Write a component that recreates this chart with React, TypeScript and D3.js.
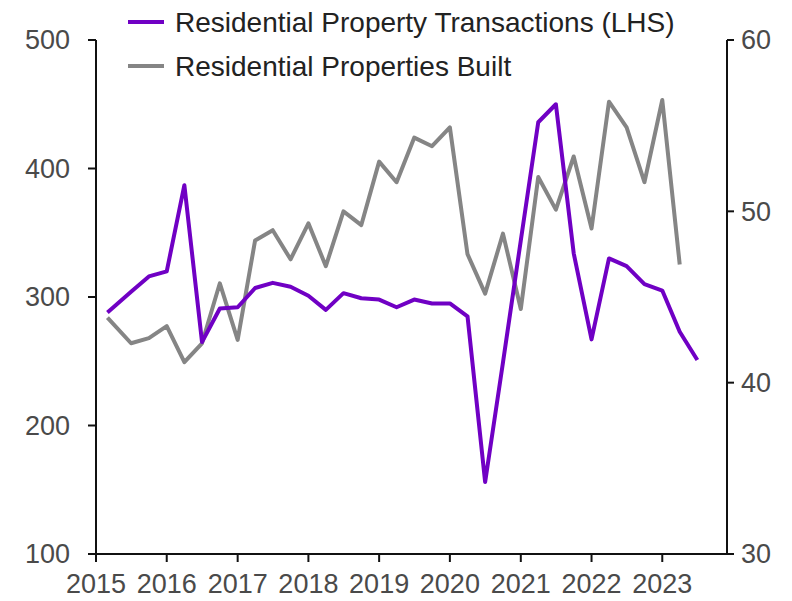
import * as d3 from "d3";

// quarterly observations (first point sits a little after the axis start)
const periods = [
  "2015-03", "2015-07", "2015-10",
  "2016-01", "2016-04", "2016-07", "2016-10",
  "2017-01", "2017-04", "2017-07", "2017-10",
  "2018-01", "2018-04", "2018-07", "2018-10",
  "2019-01", "2019-04", "2019-07", "2019-10",
  "2020-01", "2020-04", "2020-07", "2020-10",
  "2021-01", "2021-04", "2021-07", "2021-10",
  "2022-01", "2022-04", "2022-07", "2022-10",
  "2023-01", "2023-04", "2023-07",
];

const transactions = [
  288, 304, 316,
  320, 387, 265, 291,
  292, 307, 311, 308,
  301, 290, 303, 299,
  298, 292, 298, 295,
  295, 285, 156, 249,
  344, 436, 450, 334,
  267, 330, 324, 310,
  305, 273, 251,
];

const built = [
  43.8, 42.3, 42.6,
  43.3, 41.2, 42.3, 45.8,
  42.5, 48.3, 48.9, 47.2,
  49.3, 46.8, 50.0, 49.2,
  52.9, 51.7, 54.3, 53.8,
  54.9, 47.5, 45.2, 48.7,
  44.3, 52.0, 50.1, 53.2,
  49.0, 56.4, 54.9, 51.7,
  56.5, 46.9,
];

const yearTicks = [2015, 2016, 2017, 2018, 2019, 2020, 2021, 2022, 2023];
const leftTicks = [100, 200, 300, 400, 500];
const rightTicks = [30, 40, 50, 60];

const seriesNames = [
  "Residential Property Transactions (LHS)",
  "Residential Properties Built",
];
const purple = "#7000c4";
const grey = "#858585";

const W = 792;
const H = 601;
const margin = { top: 40, right: 65, bottom: 47, left: 96 };
const font = "'Liberation Sans', Arial, sans-serif";
const textColor = "#4a4a4a";

const parse = d3.timeParse("%Y-%m");

export default function App() {
  const dates = periods.map((p) => parse(p) as Date);

  const x = d3
    .scaleTime()
    .domain([new Date(2015, 0, 1), new Date(2023, 11, 1)])
    .range([margin.left, W - margin.right]);
  const yL = d3.scaleLinear().domain([100, 500]).range([H - margin.bottom, margin.top]);
  const yR = d3.scaleLinear().domain([30, 60]).range([H - margin.bottom, margin.top]);

  const lineL = d3
    .line<number>()
    .x((_, i) => x(dates[i]))
    .y((d) => yL(d));
  const lineR = d3
    .line<number>()
    .x((_, i) => x(dates[i]))
    .y((d) => yR(d));

  const x0 = margin.left;
  const x1 = W - margin.right;
  const yBottom = H - margin.bottom;

  return (
    <div style={{ position: "absolute", left: 0, top: 0 }}>
      <svg width={W} height={H} style={{ display: "block", fontFamily: font }}>
        <rect width={W} height={H} fill="#ffffff" />

        {/* axes */}
        <g stroke="#111" strokeWidth={2}>
          <line x1={x0} x2={x0} y1={margin.top} y2={yBottom} />
          <line x1={x1} x2={x1} y1={margin.top} y2={yBottom} />
          <line x1={x0} x2={x1} y1={yBottom} y2={yBottom} />
          {leftTicks.map((t) => (
            <line key={t} x1={x0 - 8} x2={x0} y1={yL(t)} y2={yL(t)} />
          ))}
          {rightTicks.map((t) => (
            <line key={t} x1={x1} x2={x1 + 7} y1={yR(t)} y2={yR(t)} />
          ))}
          {yearTicks.map((yr) => (
            <line
              key={yr}
              x1={x(new Date(yr, 0, 1))}
              x2={x(new Date(yr, 0, 1))}
              y1={yBottom}
              y2={yBottom + 8}
            />
          ))}
        </g>

        {/* tick labels */}
        <g fill={textColor} fontSize={27}>
          {leftTicks.map((t) => (
            <text key={t} x={x0 - 26} y={yL(t)} dy="0.35em" textAnchor="end">
              {t}
            </text>
          ))}
          {rightTicks.map((t) => (
            <text key={t} x={x1 + 14} y={yR(t)} dy="0.35em">
              {t}
            </text>
          ))}
          {yearTicks.map((yr) => (
            <text
              key={yr}
              x={x(new Date(yr, 0, 1))}
              y={yBottom + 30}
              dy="0.35em"
              textAnchor="middle"
            >
              {yr}
            </text>
          ))}
        </g>

        {/* series */}
        <path d={lineR(built) ?? ""} fill="none" stroke={grey} strokeWidth={4} strokeLinejoin="round" />
        <path d={lineL(transactions) ?? ""} fill="none" stroke={purple} strokeWidth={4} strokeLinejoin="round" />

        {/* legend */}
        <g fontSize={28} fill="#222">
          {seriesNames.map((name, i) => (
            <g key={name} transform={`translate(128, ${22 + i * 44})`}>
              <line x1={0} x2={36} y1={0} y2={0} stroke={i === 0 ? purple : grey} strokeWidth={4} />
              <text x={47} y={0} dy="0.35em">
                {name}
              </text>
            </g>
          ))}
        </g>
      </svg>
    </div>
  );
}
